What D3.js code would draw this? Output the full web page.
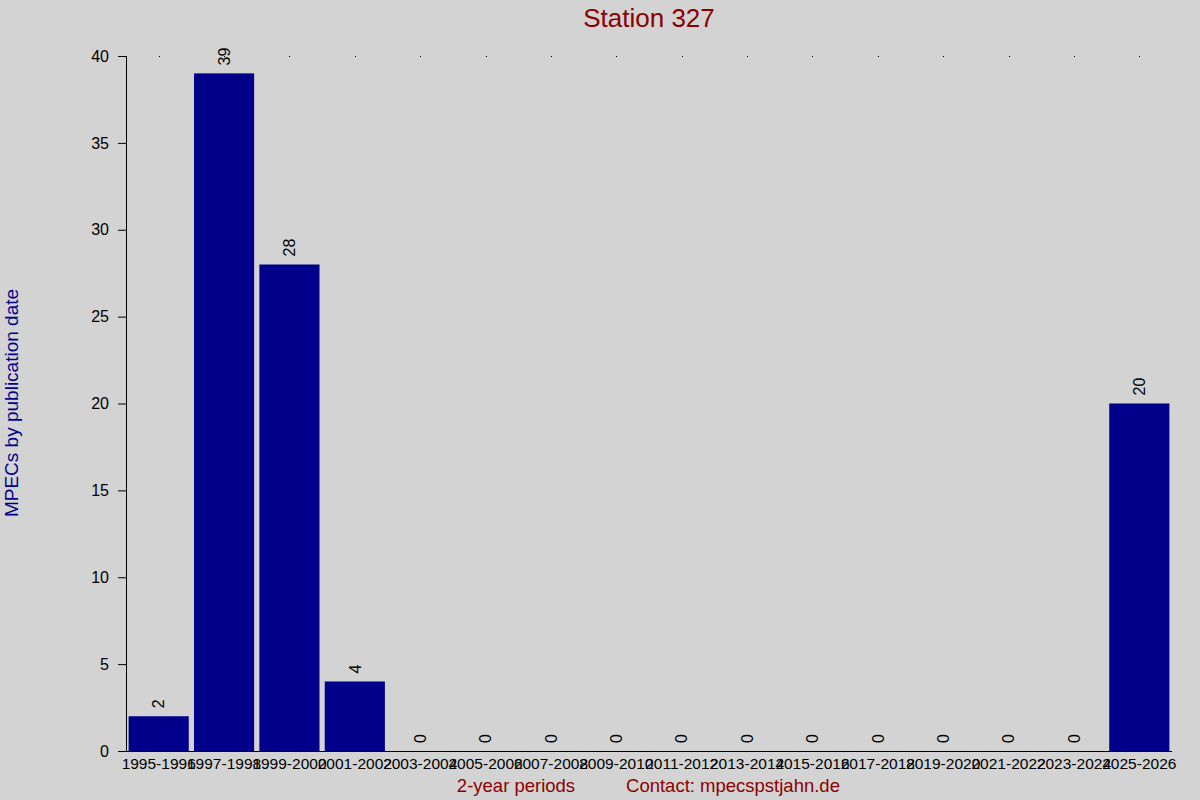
<!DOCTYPE html>
<html>
<head>
<meta charset="utf-8">
<script src="https://cdn.jsdelivr.net/npm/d3@7"></script>
<style>
  html, body { margin: 0; padding: 0; background: #d3d3d3; }
  svg { display: block; font-family: "Liberation Sans", Arial, sans-serif; }
</style>
</head>
<body>
<div class="canvas"></div>
<script>
// data
const periods = ["1995-1996", "1997-1998", "1999-2000", "2001-2002", "2003-2004", "2005-2006",
  "2007-2008", "2009-2010", "2011-2012", "2013-2014", "2015-2016", "2017-2018",
  "2019-2020", "2021-2022", "2023-2024", "2025-2026"]
const counts = [2, 39, 28, 4, 0, 0, 0, 0, 0, 0, 0, 0, 0, 0, 0, 20]
const yTicks = [0, 5, 10, 15, 20, 25, 30, 35, 40]

const width = 1200
const height = 800
const margin = {top: 56, right: 28, bottom: 49, left: 126}
const graphWidth = width - margin.left - margin.right
const graphHeight = height - margin.top - margin.bottom

const svg = d3.select(".canvas").append("svg")
    .attr("width", width)
    .attr("height", height)

svg.append("rect").attr("width", width).attr("height", height).attr("fill", "#d3d3d3")

const graph = svg.append("g")
    .attr("transform", `translate(${margin.left}, ${margin.top})`)

//scales
const x = d3.scaleBand()
    .domain(periods)
    .range([0, graphWidth])
    .paddingInner(0.08)
    .paddingOuter(0.04)

const y = d3.scaleLinear()
    .domain([0, 40])
    .range([graphHeight, 0])

// tiny dots at top, one per band
graph.selectAll(".dot")
    .data(periods)
    .enter().append("rect")
    .attr("x", d => Math.round(x(d) + x.bandwidth() / 2))
    .attr("y", y(40))
    .attr("width", 1)
    .attr("height", 1)
    .attr("fill", "#000")

// bars
graph.selectAll(".bar")
    .data(counts)
    .enter().append("rect")
    .attr("x", (d, i) => x(periods[i]))
    .attr("y", d => y(d))
    .attr("width", x.bandwidth())
    .attr("height", d => graphHeight - y(d))
    .attr("fill", "#00008b")

// value labels
graph.selectAll(".val")
    .data(counts)
    .enter().append("text")
    .attr("transform", (d, i) => `translate(${x(periods[i]) + x.bandwidth() / 2}, ${y(d) - 8}) rotate(-90)`)
    .attr("dy", "0.36em")
    .attr("text-anchor", "start")
    .attr("font-size", 16)
    .attr("fill", "#000")
    .text(d => d)

// axes
const xAxis = d3.axisBottom(x).tickSize(0).tickPadding(7)
const yAxis = d3.axisLeft(y).tickValues(yTicks).tickSize(8).tickPadding(9)

const xAxisGroup = graph.append("g")
    .attr("transform", `translate(0, ${graphHeight})`)
    .call(xAxis)
xAxisGroup.select(".domain").attr("d", `M-8,0.5H${graphWidth}`)
xAxisGroup.selectAll("text").attr("font-size", 15.5).attr("fill", "#000")

const yAxisGroup = graph.append("g").call(yAxis)
yAxisGroup.select(".domain").attr("d", `M0.5,0V${graphHeight}`)
yAxisGroup.selectAll("text").attr("font-size", 16).attr("fill", "#000")

// titles
svg.append("text")
    .attr("x", 649).attr("y", 27)
    .attr("text-anchor", "middle")
    .attr("font-size", 26)
    .attr("fill", "#8b0000")
    .text("Station 327")

svg.append("text")
    .attr("transform", `translate(18, 403) rotate(-90)`)
    .attr("text-anchor", "middle")
    .attr("font-size", 19)
    .attr("fill", "#00008b")
    .text("MPECs by publication date")

svg.append("text")
    .attr("x", 516).attr("y", 792)
    .attr("text-anchor", "middle")
    .attr("font-size", 18.5)
    .attr("fill", "#8b0000")
    .text("2-year periods")

svg.append("text")
    .attr("x", 733).attr("y", 792)
    .attr("text-anchor", "middle")
    .attr("font-size", 18.5)
    .attr("fill", "#8b0000")
    .text("Contact: mpecspstjahn.de")
</script>
</body>
</html>
